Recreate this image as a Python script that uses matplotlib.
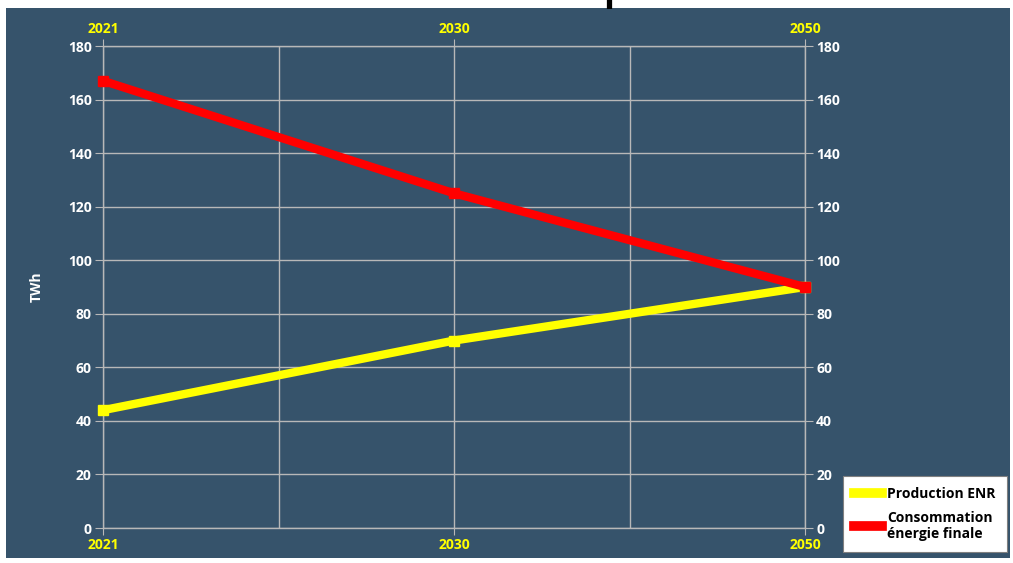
import matplotlib.pyplot as plt
from matplotlib.patches import Rectangle
from matplotlib.lines import Line2D

# Data
years = ["2021", "2030", "2050"]
production_enr = [44, 70, 90]
consommation_finale = [167, 125, 90]
y_ticks = list(range(0, 181, 20))

bg = "#36536B"
grid_col = "#B8B8B8"
plt.rcParams['font.family'] = ['Open Sans', 'DejaVu Sans']

fig = plt.figure(figsize=(10.13, 5.63), dpi=100)
fig.patch.set_facecolor("white")

# dark panel behind the chart
fig.patches.append(Rectangle((6 / 1013, 5 / 563), 1004 / 1013, 550 / 563,
                             transform=fig.transFigure, facecolor=bg,
                             edgecolor="none", zorder=-1))

# clipped title (only the descender shows in the original)
fig.text(615 / 1013, 1.0, "p", fontsize=26, fontweight='bold', color="black",
         ha='center', va='baseline')

ax = fig.add_axes([103 / 1013, 35 / 563, 702 / 1013, 482 / 563])
ax.set_facecolor(bg)

x = list(range(len(years)))
ax.plot(x, production_enr, color="#FFFF00", lw=6, marker='s', ms=7,
        solid_capstyle='butt', clip_on=False, zorder=3)
ax.plot(x, consommation_finale, color="#FF0000", lw=6, marker='s', ms=7,
        solid_capstyle='butt', clip_on=False, zorder=4)

ax.set_xlim(0, 2)
ax.set_ylim(0, 180)
ax.set_xticks(x)
ax.set_xticklabels(years)
ax.set_xticks([0.5, 1.5], minor=True)
ax.set_yticks(y_ticks)

ax.grid(True, which='both', color=grid_col, lw=1)
ax.set_axisbelow(True)
for s in ax.spines.values():
    s.set_color(grid_col)
    s.set_linewidth(1)

ax.tick_params(axis='x', which='major', top=True, labeltop=True, bottom=True,
               labelbottom=True, length=5, color=grid_col, labelcolor="#FFFF00",
               labelsize=10, pad=2)
ax.tick_params(axis='x', which='minor', length=0)
ax.tick_params(axis='y', left=True, right=True, labelleft=True, labelright=True,
               length=6, color=grid_col, labelcolor="white", labelsize=10, pad=2)
for lbl in ax.get_xticklabels() + ax.get_yticklabels():
    lbl.set_fontweight('bold')

fig.text(37 / 1013, (563 - 287) / 563, "TWh", rotation=90, color="white",
         fontsize=10, fontweight='bold', ha='center', va='center')

handles = [Line2D([], [], color="#FFFF00", lw=7),
           Line2D([], [], color="#FF0000", lw=7)]
labels = ["Production ENR", "Consommation\nénergie finale"]
leg = fig.legend(handles, labels, loc='lower left',
                 bbox_to_anchor=(843 / 1013, 11 / 563), borderaxespad=0,
                 frameon=True, facecolor="white", edgecolor="#808080",
                 framealpha=1, fancybox=False, handlelength=2.0,
                 handletextpad=0.4, labelspacing=0.7, borderpad=0.8,
                 prop={'weight': 'bold', 'size': 10})
leg.get_frame().set_linewidth(0.8)

fig.savefig("out.png", dpi=100, facecolor="white")
